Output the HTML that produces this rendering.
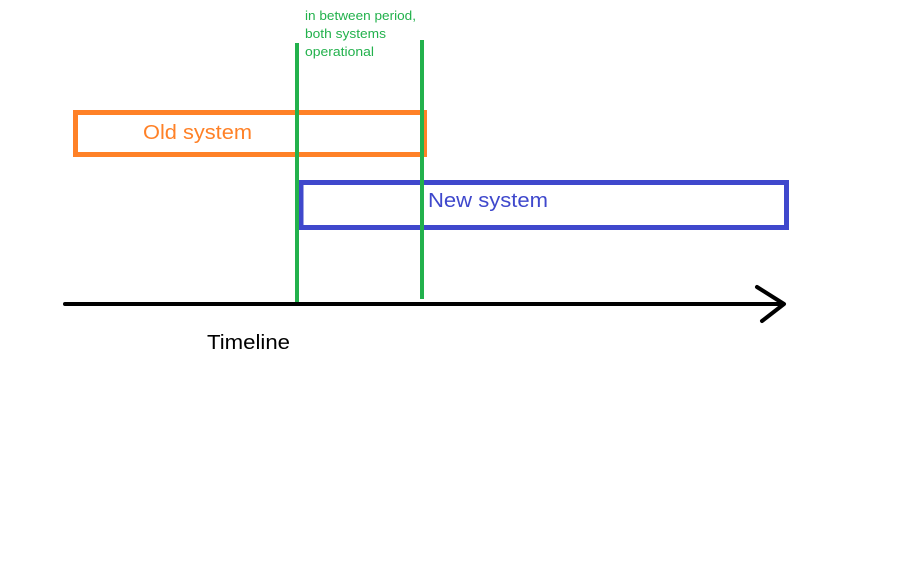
<!DOCTYPE html>
<html><head><style>body{margin:0;background:#fff}</style></head><body>
<svg width="920" height="568" xmlns="http://www.w3.org/2000/svg" style="display:block;font-family:'Liberation Sans',sans-serif">
<rect x="75.5" y="112.5" width="349" height="42" fill="none" stroke="#ff8127" stroke-width="5"/>
<rect x="301" y="182.5" width="485.5" height="45" fill="none" stroke="#3f48cc" stroke-width="5"/>
<line x1="297" y1="43" x2="297" y2="303" stroke="#22b14c" stroke-width="4"/>
<line x1="422" y1="40" x2="422" y2="299" stroke="#22b14c" stroke-width="4"/>
<line x1="65" y1="304" x2="783" y2="304" stroke="#000" stroke-width="4" stroke-linecap="round"/>
<polyline points="757,287 784,304 762,321" fill="none" stroke="#000" stroke-width="4" stroke-linecap="round" stroke-linejoin="round"/>
<text x="143" y="139" font-size="20" fill="#ff8127" textLength="109" lengthAdjust="spacingAndGlyphs">Old system</text>
<text x="428" y="207" font-size="20" fill="#3f48cc" textLength="120" lengthAdjust="spacingAndGlyphs">New system</text>
<text x="207" y="349" font-size="20" fill="#000" textLength="83" lengthAdjust="spacingAndGlyphs">Timeline</text>
<text font-size="12.5" fill="#22b14c"><tspan x="305" y="20" textLength="111" lengthAdjust="spacingAndGlyphs">in between period,</tspan><tspan x="305" y="38" textLength="81" lengthAdjust="spacingAndGlyphs">both systems</tspan><tspan x="305" y="56" textLength="69" lengthAdjust="spacingAndGlyphs">operational</tspan></text>
</svg>
</body></html>
